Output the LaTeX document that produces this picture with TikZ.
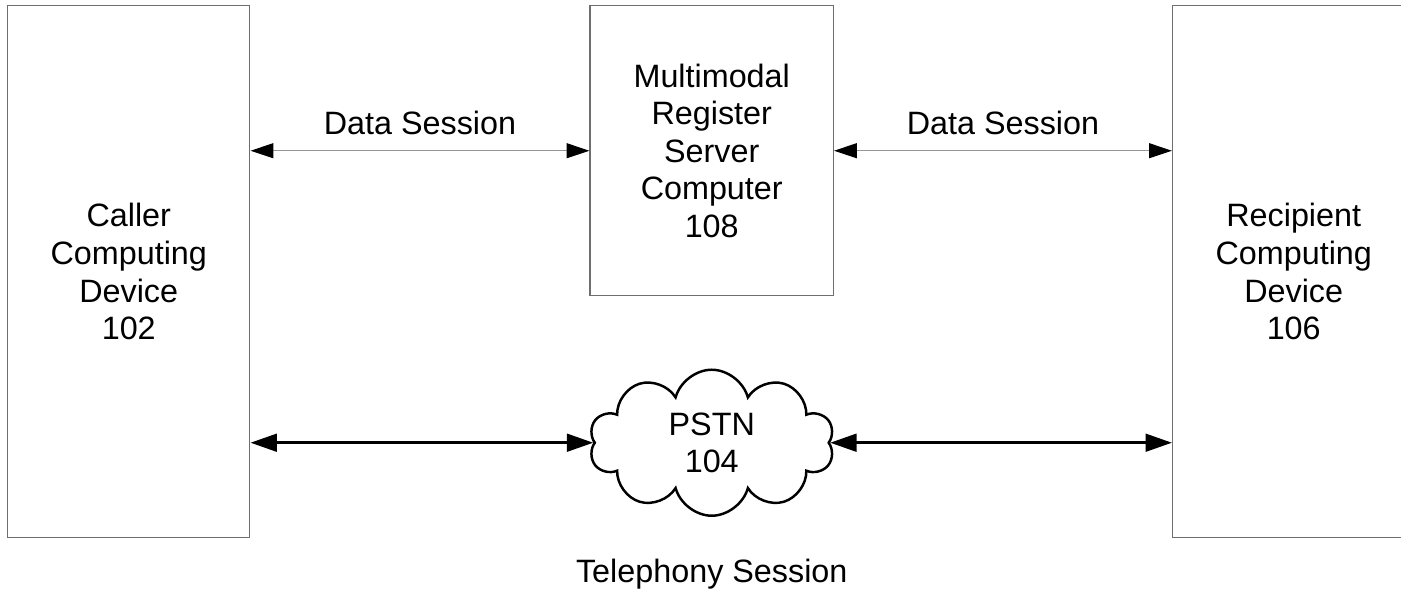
\documentclass[tikz,border=0pt]{standalone}
\usepackage{fontspec}
\setmainfont{Liberation Sans}
\usetikzlibrary{positioning,shapes.symbols,arrows.meta}
\definecolor{boxgray}{RGB}{110,110,110}
\definecolor{linegray}{RGB}{150,150,150}

\begin{document}
\begin{tikzpicture}[
  font=\fontsize{18.4pt}{21.4pt}\selectfont,
  device/.style={draw=boxgray, line width=0.85pt, rectangle, align=center,
    minimum width=4.84cm, minimum height=10.64cm, inner sep=0},
  datalink/.style={draw=linegray, line width=0.6pt,
    {Triangle[color=black, length=13pt, width=8.5pt]}-{Triangle[color=black, length=13pt, width=8.5pt]}},
  phonelink/.style={line width=1.7pt,
    {Triangle[length=15pt, width=10pt]}-{Triangle[length=15pt, width=10pt]}},
  caption/.style={inner sep=0}]
  \useasboundingbox (0,0) rectangle (28.02,11.8);
  \node[device, anchor=north west] (caller) at (0.14,11.7) {Caller\\Computing\\Device\\102};
  \node[device, minimum width=4.86cm, minimum height=5.8cm, right=6.78cm of caller.north east, anchor=north west] (server) {Multimodal\\Register\\Server\\Computer\\108};
  \node[device, right=6.76cm of server.north east, anchor=north west] (recipient) {Recipient\\Computing\\Device\\106};
  \node[draw, cloud, cloud puffs=10, aspect=1.7, line width=1.4pt, align=center, inner sep=0pt, minimum width=4.9cm, minimum height=2.92cm, below=1.44cm of server] (pstn) {PSTN\\104};
  \node[caption, below=0.84cm of pstn] (telephony) {Telephony Session};
  \draw[datalink] (server.west -| caller.east) -- node[caption, above=9pt] {Data Session} (server.west);
  \draw[datalink] (server.east) -- node[caption, above=9pt] {Data Session} (server.east -| recipient.west);
  \draw[phonelink] (pstn.west -| caller.east) -- (pstn.west);
  \draw[phonelink] (pstn.east) -- (pstn.east -| recipient.west);
\end{tikzpicture}
\end{document}
